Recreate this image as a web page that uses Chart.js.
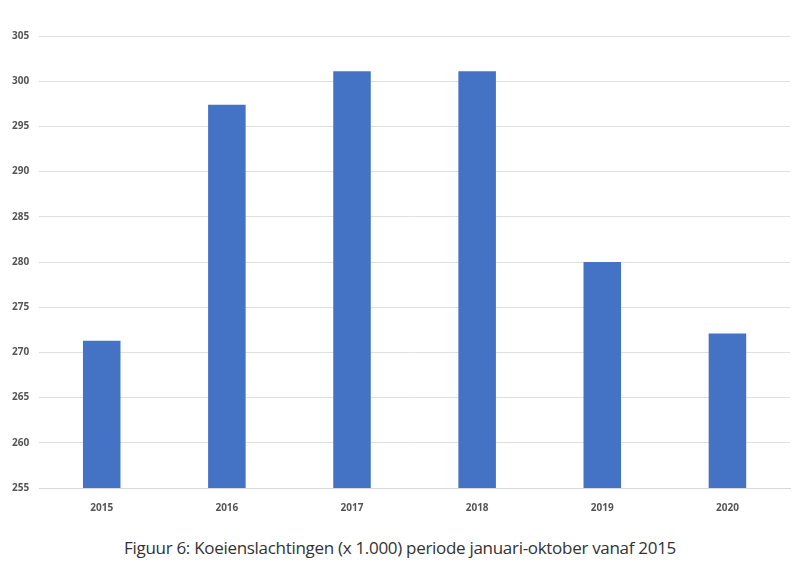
<!DOCTYPE html>
<html><head><meta charset="utf-8">
<script src="https://cdn.jsdelivr.net/npm/chart.js@4"></script>
<style>
html,body{margin:0;padding:0;background:#fff;width:800px;height:584px;overflow:hidden}
#wrap{position:absolute;left:0;top:20px;width:800px;height:500px}
#cap{position:absolute;left:0;top:536px;width:800px;text-align:center;font-family:"Open Sans",sans-serif;font-size:17px;color:#333;letter-spacing:-0.3px}
</style></head><body>
<div id="wrap"><canvas id="c"></canvas></div>
<div id="cap">Figuur 6: Koeienslachtingen (x 1.000) periode januari-oktober vanaf 2015</div>
<script>
const categories = ["2015","2016","2017","2018","2019","2020"];
const values = [271.3, 297.4, 301.1, 301.1, 280.0, 272.1];
const yMin = 255, yMax = 305, yStep = 5;
new Chart(document.getElementById('c'), {
  type: 'bar',
  data: { labels: categories, datasets: [{ data: values, backgroundColor: '#4472C4', barPercentage: 0.6, categoryPercentage: 0.5 }] },
  options: {
    responsive: true, maintainAspectRatio: false, animation: false,
    layout: { padding: { left: 2, right: 10, top: 10, bottom: 0 } },
    plugins: { legend: { display: false }, tooltip: { enabled: false } },
    scales: {
      x: { grid: { display: false }, border: { color: '#d9d9d9' },
           ticks: { color: '#555', font: { family: 'Open Sans', size: 10, weight: 'bold' }, padding: 6 } },
      y: { min: yMin, max: yMax, ticks: { stepSize: yStep, color: '#555', font: { family: 'Open Sans', size: 10, weight: 'bold' }, padding: 10 },
           grid: { color: '#e0e0e0', drawTicks: false }, border: { display: false } }
    }
  }
});
</script></body></html>
